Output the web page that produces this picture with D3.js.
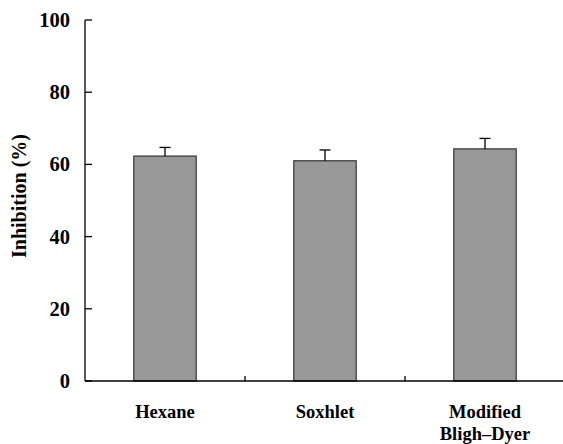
<!DOCTYPE html>
<html>
<head>
<meta charset="utf-8">
<script src="https://cdn.jsdelivr.net/npm/d3@7"></script>
<style>
  body { margin: 0; background: #fff; }
  svg text { font-family: "Liberation Serif", "Times New Roman", serif; font-weight: bold; fill: #000; }
</style>
</head>
<body>
<svg id="chart" width="563" height="444"></svg>
<script>
'use strict';

const categories = [['Hexane'], ['Soxhlet'], ['Modified', 'Bligh\u2013Dyer']];
const values = [62.3, 61.0, 64.3];
const errors = [2.4, 3.0, 2.9];
const yTicks = [0, 20, 40, 60, 80, 100];

const svg = d3.select('#chart');
const plotLeft = 85, plotRight = 565, plotTop = 20, plotBottom = 381;

const x = d3.scaleBand()
  .domain(d3.range(categories.length))
  .range([plotLeft, plotRight])
  .padding(0);

const y = d3.scaleLinear()
  .domain([0, 100])
  .range([plotBottom, plotTop]);

const barW = x.bandwidth() * 0.39;

// y axis
const yAxis = svg.append('g');
yAxis.append('line')
  .attr('x1', plotLeft).attr('x2', plotLeft)
  .attr('y1', y(100)).attr('y2', y(0))
  .attr('stroke', '#000').attr('stroke-width', 1.3);
yAxis.selectAll('.tick')
  .data(yTicks)
  .join('line')
  .attr('x1', plotLeft).attr('x2', plotLeft + 7)
  .attr('y1', d => y(d)).attr('y2', d => y(d))
  .attr('stroke', '#000').attr('stroke-width', 1.3);
yAxis.selectAll('text')
  .data(yTicks)
  .join('text')
  .attr('x', 70)
  .attr('y', d => y(d) + 7)
  .attr('text-anchor', 'end')
  .attr('font-size', 20.5)
  .text(d => d);

svg.append('text')
  .attr('transform', `translate(26,196) rotate(-90)`)
  .attr('text-anchor', 'middle')
  .attr('font-size', 20)
  .text('Inhibition (%)');

// bars
svg.selectAll('.bar')
  .data(values)
  .join('rect')
  .attr('x', (d, i) => x(i) + (x.bandwidth() - barW) / 2)
  .attr('y', d => y(d))
  .attr('width', barW)
  .attr('height', d => y(0) - y(d))
  .attr('fill', '#999999')
  .attr('stroke', '#333')
  .attr('stroke-width', 1.2);

// error bars
const err = svg.append('g').attr('stroke', '#000').attr('stroke-width', 1.3);
values.forEach((v, i) => {
  const cx = x(i) + x.bandwidth() / 2;
  err.append('line')
    .attr('x1', cx).attr('x2', cx)
    .attr('y1', y(v)).attr('y2', y(v + errors[i]));
  err.append('line')
    .attr('x1', cx - 5.5).attr('x2', cx + 5.5)
    .attr('y1', y(v + errors[i])).attr('y2', y(v + errors[i]));
});

// x axis
const xAxis = svg.append('g');
xAxis.append('line')
  .attr('x1', plotLeft).attr('x2', 563)
  .attr('y1', plotBottom).attr('y2', plotBottom)
  .attr('stroke', '#000').attr('stroke-width', 1.3);
xAxis.selectAll('.tick')
  .data(d3.range(1, categories.length))
  .join('line')
  .attr('x1', d => x(d)).attr('x2', d => x(d))
  .attr('y1', plotBottom).attr('y2', plotBottom - 5)
  .attr('stroke', '#000').attr('stroke-width', 1.3);
xAxis.selectAll('text')
  .data(categories)
  .join('text')
  .attr('x', (d, i) => x(i) + x.bandwidth() / 2)
  .attr('y', 418)
  .attr('text-anchor', 'middle')
  .attr('font-size', 18.5)
  .selectAll('tspan')
  .data(d => d)
  .join('tspan')
  .attr('x', function() { return this.parentNode.getAttribute('x'); })
  .attr('dy', (d, i) => i === 0 ? 0 : 22)
  .text(d => d);
</script>
</body>
</html>
